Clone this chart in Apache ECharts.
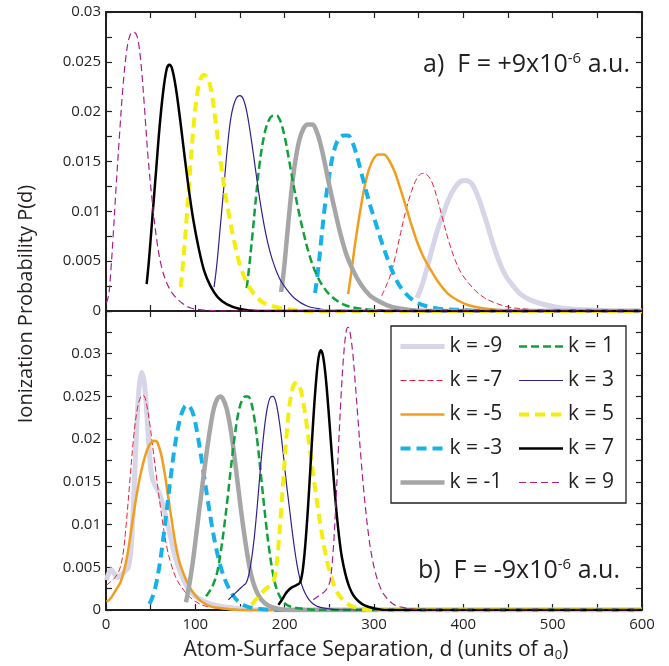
<!DOCTYPE html>
<html>
<head>
<meta charset="utf-8">
<script src="https://cdn.jsdelivr.net/npm/echarts@6/dist/echarts.min.js"></script>
<style>html,body{margin:0;padding:0;background:#fff}#c{width:669px;height:666px}</style>
</head>
<body>
<div id="c"></div>
<script>
// ---------- DATA ----------
const seriesNames = ['k = -9','k = -7','k = -5','k = -3','k = -1','k = 1','k = 3','k = 5','k = 7','k = 9'];
const xTicks = [0,100,200,300,400,500,600];
const yTicksTop = [0,0.005,0.01,0.015,0.02,0.025,0.03];
const yTicksBottom = [0,0.005,0.01,0.015,0.02,0.025,0.03];
const panelLabelA = 'a)  F = +9x10';
const panelLabelB = 'b)  F = -9x10';

// Panel a) F = +9e-6 a.u.
const topKm9 = [[348,0.0013],[353,0.0024],[359,0.0042],[365,0.0062],[371,0.0081],[377,0.0096],[383,0.0111],[390,0.0123],[397,0.013],[403,0.0131],[409,0.0128],[415,0.0118],[421,0.0103],[427,0.0086],[433,0.0068],[440,0.005],[447,0.0036],[455,0.0026],[464,0.0017],[475,0.0011],[488,0.0007],[503,0.0004],[520,0.0002],[545,0.0001],[570,0],[600,0]];
const topKm7 = [[308.6,0.0015],[313,0.0024],[318,0.0035],[324,0.0055],[330,0.0079],[336,0.0102],[342,0.012],[348,0.0133],[354,0.0138],[359,0.0137],[365,0.0129],[371,0.0112],[377,0.0092],[383,0.0072],[390,0.0053],[397,0.0039],[405,0.0029],[414,0.002],[424,0.0013],[436,0.0008],[450,0.0004],[470,0.0002],[500,0],[600,0]];
const topKm5 = [[271,0.0017],[274,0.0035],[278,0.0062],[283,0.0092],[288,0.0118],[293,0.0138],[299,0.0152],[305,0.0157],[311,0.0157],[317,0.0151],[323,0.014],[329,0.0124],[335,0.0107],[341,0.0089],[348,0.007],[355,0.0055],[363,0.0042],[372,0.0029],[382,0.0018],[393,0.0011],[405,0.0006],[420,0.0003],[440,0.0001],[460,0],[600,0]];
const topKm3 = [[234,0.0018],[237,0.0038],[241,0.0072],[245,0.0105],[250,0.0137],[255,0.016],[260,0.0172],[266,0.0176],[271,0.0176],[276,0.0169],[281,0.0155],[286,0.0138],[291,0.0121],[296,0.0105],[302,0.0088],[309,0.0068],[317,0.0048],[325,0.0031],[334,0.0019],[345,0.001],[358,0.0005],[375,0.0002],[400,0.0001],[420,0],[600,0]];
const topKm1 = [[196,0.0019],[199,0.004],[203,0.0078],[207,0.0115],[211,0.0145],[216,0.017],[221,0.0183],[226,0.0187],[231,0.0187],[235,0.0182],[240,0.0168],[245,0.0148],[250,0.0126],[256,0.0102],[262,0.0079],[269,0.0057],[277,0.004],[285,0.0027],[295,0.0016],[307,0.0009],[320,0.0004],[340,0.0001],[360,0],[600,0]];
const topK1 = [[157.5,0.0023],[160,0.0042],[164,0.0077],[168,0.0115],[172,0.0148],[177,0.0176],[182,0.0191],[187,0.0196],[191,0.0196],[195,0.0191],[200,0.0175],[205,0.0151],[210,0.0126],[215,0.0103],[221,0.0079],[227,0.0058],[234,0.004],[242,0.0026],[252,0.0015],[265,0.0007],[280,0.0003],[300,0.0001],[320,0],[600,0]];
const topK3 = [[121,0.0024],[124,0.0046],[128,0.0085],[132,0.0125],[136,0.0165],[140,0.0195],[145,0.0212],[150,0.0216],[154,0.0212],[158,0.0198],[163,0.017],[168,0.0138],[173,0.0107],[179,0.0077],[186,0.0052],[194,0.0033],[202,0.0022],[212,0.0012],[225,0.0005],[240,0.0002],[260,0],[600,0]];
const topK5 = [[83.6,0.0024],[86,0.0045],[90,0.009],[94,0.014],[98,0.0185],[102,0.0217],[106,0.0233],[110,0.0237],[114,0.0233],[118,0.022],[123,0.0188],[128,0.0152],[133,0.0121],[138,0.0095],[144,0.0068],[150,0.0046],[157,0.003],[165,0.0018],[175,0.0009],[190,0.0004],[210,0.0001],[230,0],[600,0]];
const topK7 = [[45.5,0.0027],[48,0.005],[52,0.0095],[56,0.014],[60,0.0185],[64,0.022],[68,0.0243],[71,0.0247],[74,0.0243],[78,0.0225],[83,0.0192],[88,0.0155],[93,0.012],[98,0.009],[104,0.0062],[110,0.004],[117,0.0025],[125,0.0014],[135,0.0007],[150,0.0002],[170,0],[600,0]];
const topK9 = [[0.5,0.0008],[3,0.0016],[5,0.0035],[8,0.0075],[11,0.012],[15,0.0175],[19,0.0225],[23,0.026],[27,0.0277],[31,0.028],[35,0.0275],[39,0.025],[43,0.0205],[47,0.0155],[52,0.0108],[57,0.007],[62,0.0045],[68,0.0028],[75,0.0017],[85,0.0008],[95,0.0003],[110,0.0001],[130,0],[600,0]];

// Panel b) F = -9e-6 a.u.
const botKm9 = [[0.5,0.0035],[3,0.0043],[6,0.0047],[9,0.0043],[13,0.0038],[17,0.0041],[21,0.0045],[25,0.005],[28,0.0072],[31,0.013],[34,0.0205],[37,0.026],[40,0.0278],[43,0.0265],[46,0.0225],[49,0.0178],[52,0.0153],[56,0.0144],[60,0.0136],[64,0.0122],[68,0.0105],[73,0.0082],[78,0.006],[84,0.0042],[91,0.0027],[99,0.0017],[110,0.001],[125,0.0005],[145,0.0002],[170,0],[600,0]];
const botKm7 = [[0.5,0.0029],[5,0.0033],[10,0.0038],[15,0.0047],[19,0.0065],[23,0.0105],[27,0.0155],[31,0.0203],[35,0.0235],[39,0.025],[42,0.0251],[45,0.0243],[49,0.0218],[53,0.0185],[57,0.0152],[61,0.012],[65,0.0092],[69,0.0069],[74,0.005],[79,0.0036],[85,0.0026],[92,0.0017],[100,0.001],[110,0.0005],[125,0.0002],[145,0],[600,0]];
const botKm5 = [[0.5,0.001],[4,0.0012],[8,0.0018],[12,0.0025],[16,0.0032],[20,0.0045],[24,0.0065],[28,0.0092],[32,0.012],[36,0.0145],[40,0.0165],[44,0.0181],[48,0.0192],[52,0.0197],[55,0.0198],[58,0.0195],[62,0.0181],[66,0.0158],[70,0.013],[74,0.0102],[78,0.0076],[82,0.0057],[87,0.0042],[93,0.0028],[100,0.0017],[108,0.0009],[118,0.0004],[130,0.0002],[150,0],[600,0]];
const botKm3 = [[48.5,0.0007],[52,0.0015],[56,0.003],[60,0.0053],[64,0.0083],[68,0.0117],[72,0.0152],[76,0.0184],[80,0.021],[84,0.0228],[88,0.0238],[91,0.024],[94,0.0238],[98,0.0228],[102,0.0208],[106,0.0183],[110,0.0155],[114,0.0128],[118,0.0102],[122,0.0079],[126,0.006],[130,0.0045],[135,0.0031],[141,0.0019],[148,0.001],[158,0.0004],[175,0.0001],[190,0],[600,0]];
const botKm1 = [[89.5,0.0009],[93,0.0028],[97,0.0055],[101,0.0088],[105,0.0122],[109,0.0155],[113,0.0187],[117,0.0215],[121,0.0237],[125,0.0248],[128,0.025],[131,0.0247],[135,0.0236],[139,0.0215],[143,0.0186],[147,0.0152],[151,0.0118],[155,0.0087],[159,0.006],[163,0.0039],[168,0.0023],[174,0.0012],[182,0.0005],[195,0.0001],[210,0],[600,0]];
const botK1 = [[112,0.0016],[116,0.0022],[120,0.003],[124,0.0042],[128,0.0065],[132,0.0095],[136,0.013],[140,0.0168],[144,0.0203],[148,0.023],[152,0.0245],[156,0.025],[159,0.025],[162,0.0245],[166,0.0225],[170,0.0192],[174,0.0152],[178,0.0112],[182,0.0076],[186,0.0048],[190,0.0028],[195,0.0015],[201,0.0007],[210,0.0003],[225,0.0001],[240,0],[600,0]];
const botK3 = [[137,0.0012],[141,0.0016],[145,0.002],[149,0.0024],[153,0.0028],[157,0.0032],[160,0.0042],[163,0.006],[166,0.0085],[169,0.0118],[172,0.0155],[175,0.019],[178,0.0219],[181,0.0239],[184,0.0249],[187,0.025],[190,0.0244],[193,0.0228],[196,0.0205],[199,0.0177],[202,0.0148],[205,0.0122],[208,0.0096],[211,0.0072],[214,0.0052],[217,0.0037],[221,0.0024],[226,0.0014],[232,0.0007],[240,0.0003],[252,0.0001],[265,0],[600,0]];
const botK5 = [[163,0.0006],[167,0.0011],[171,0.0016],[175,0.0021],[179,0.0025],[183,0.0028],[187,0.0032],[190,0.0045],[193,0.0075],[196,0.0115],[199,0.016],[202,0.0203],[205,0.0236],[208,0.0256],[211,0.0265],[214,0.0266],[217,0.0261],[220,0.0248],[224,0.0222],[228,0.019],[232,0.0158],[236,0.0128],[240,0.01],[244,0.0075],[248,0.0055],[252,0.0039],[256,0.0027],[261,0.0017],[267,0.001],[274,0.0005],[283,0.0002],[295,0],[600,0]];
const botK7 = [[193,0.0006],[197,0.0012],[201,0.0019],[205,0.0024],[209,0.0027],[213,0.0029],[217,0.0032],[220,0.0045],[223,0.0075],[226,0.0118],[229,0.017],[232,0.0222],[235,0.0266],[238,0.0296],[240.5,0.0304],[243,0.0297],[246,0.0272],[249,0.0235],[252,0.0193],[255,0.0152],[258,0.0115],[261,0.0085],[264,0.0062],[268,0.0042],[272,0.0028],[277,0.0017],[283,0.001],[290,0.0005],[300,0.0002],[315,0],[600,0]];
const botK9 = [[232,0.0012],[236,0.0015],[240,0.0018],[244,0.0021],[248,0.0026],[251,0.0035],[254,0.0065],[257,0.0118],[260,0.0185],[263,0.0248],[266,0.0298],[269,0.0327],[271,0.0331],[273,0.0326],[276,0.0303],[279,0.0266],[282,0.0224],[285,0.0183],[288,0.0146],[291,0.0114],[294,0.0087],[297,0.0066],[301,0.0046],[305,0.0032],[310,0.002],[316,0.0012],[323,0.0006],[332,0.0003],[345,0.0001],[360,0],[600,0]];

// ---------- STYLE ----------
const FONT = "'Open Sans', 'Noto Sans', sans-serif";
const INK = '#231f20';
const styles = [
  {color:'#d6d6e8', width:5,   type:'solid'},
  {color:'#e4233b', width:1,   type:[6,3]},
  {color:'#f29d1d', width:2.5, type:'solid'},
  {color:'#17b1ea', width:4,   type:[10,6]},
  {color:'#a6a6a6', width:4.5, type:'solid'},
  {color:'#10a03c', width:2.5, type:[8,4]},
  {color:'#33208f', width:1.2, type:'solid'},
  {color:'#f5ee0c', width:4,   type:[10,6]},
  {color:'#000000', width:2.5, type:'solid'},
  {color:'#a7218e', width:1.2, type:[7,4]}
];
const topData = [topKm9, topKm7, topKm5, topKm3, topKm1, topK1, topK3, topK5, topK7, topK9];
const botData = [botKm9, botKm7, botKm5, botKm3, botKm1, botK1, botK3, botK5, botK7, botK9];

function mk(i, data, axisIdx) {
  const s = styles[i];
  return {
    type:'line', name: seriesNames[i], data: data,
    xAxisIndex: axisIdx, yAxisIndex: axisIdx,
    symbol:'none', showSymbol:false, smooth:0.35,
    lineStyle:{color:s.color, width:s.width, type:s.type},
    itemStyle:{color:s.color},
    emphasis:{disabled:true}
  };
}
const series = [];
topData.forEach((d,i)=>series.push(mk(i,d,0)));
botData.forEach((d,i)=>series.push(mk(i,d,2)));

const tickLine = {color:INK, width:1.2};
function xAx(grid, pos, labels) {
  return {
    type:'value', gridIndex:grid, position:pos, min:0, max:600, interval:100,
    axisLine:{show:true, onZero:false, lineStyle:{color:INK, width:2}},
    axisTick:{show:true, inside:true, length:6, lineStyle:tickLine},
    minorTick:{show:true, splitNumber:2, length:6, lineStyle:tickLine},
    splitLine:{show:false}, minorSplitLine:{show:false},
    axisLabel:{show:labels, fontFamily:FONT, fontSize:15, color:INK, margin:7}
  };
}
function yAx(grid, pos, max, labels) {
  return {
    type:'value', gridIndex:grid, position:pos, min:0, max:max, interval:0.005,
    axisLine:{show:true, onZero:false, lineStyle:{color:INK, width:2}},
    axisTick:{show:true, inside:true, length:6, lineStyle:tickLine},
    minorTick:{show:true, splitNumber:2, length:6, lineStyle:tickLine},
    splitLine:{show:false}, minorSplitLine:{show:false},
    axisLabel:{show:labels, fontFamily:FONT, fontSize:15, color:INK, margin:5,
      formatter: v => (v > 0.0326 ? '' : String(parseFloat(v.toFixed(4))))}
  };
}

const legendCommon = {
  orient:'vertical', top:336, padding:0, itemGap:13, itemWidth:44, itemHeight:12,
  textStyle:{fontFamily:FONT, fontSize:21, color:INK},
  itemStyle:{color:'rgba(0,0,0,0)', borderColor:'rgba(0,0,0,0)', borderWidth:0, opacity:0},
  lineStyle:{width:'inherit'}, selectedMode:false
};

const option = {
  animation:false,
  backgroundColor:'#fff',
  grid:[
    {left:106, top:12, width:536, height:299, containLabel:false},
    {left:106, top:311, width:536, height:299, containLabel:false}
  ],
  xAxis:[xAx(0,'bottom',false), xAx(0,'top',false), xAx(1,'bottom',true), xAx(1,'top',false)],
  yAxis:[yAx(0,'left',0.03,true), yAx(0,'right',0.03,false), yAx(1,'left',0.035,true), yAx(1,'right',0.035,false)],
  legend:[
    Object.assign({left:398, data:seriesNames.slice(0,5)}, legendCommon),
    Object.assign({left:517, data:seriesNames.slice(5)}, legendCommon)
  ],
  graphic:[
    {type:'rect', shape:{x:391, y:326, width:235, height:177}, style:{fill:null, stroke:INK, lineWidth:1.3}, z:10},
    {type:'text', x:26, y:304, rotation:Math.PI/2, style:{text:'Ionization Probability P(d)', font:"20px " + FONT, fill:INK, align:'center', verticalAlign:'middle'}},
    {type:'text', x:376, y:650, style:{text:'Atom-Surface Separation, d (units of a{sub|0})', font:"21px " + FONT, fill:INK, align:'center', verticalAlign:'middle',
      rich:{sub:{font:"13px " + FONT, fill:INK, verticalAlign:'bottom', padding:[11,0,0,0]}}}},
    {type:'text', x:630, y:65, style:{text: panelLabelA + '{sup|-6} a.u.', font:"25px " + FONT, fill:INK, align:'right', verticalAlign:'middle',
      rich:{sup:{font:"15px " + FONT, fill:INK, padding:[0,0,13,0]}}}},
    {type:'text', x:620, y:571, style:{text: panelLabelB + '{sup|-6} a.u.', font:"25px " + FONT, fill:INK, align:'right', verticalAlign:'middle',
      rich:{sup:{font:"15px " + FONT, fill:INK, padding:[0,0,13,0]}}}}
  ],
  series: series
};
const chart = echarts.init(document.getElementById('c'), null, {renderer:'canvas'});
chart.setOption(option);
</script>
</body>
</html>
